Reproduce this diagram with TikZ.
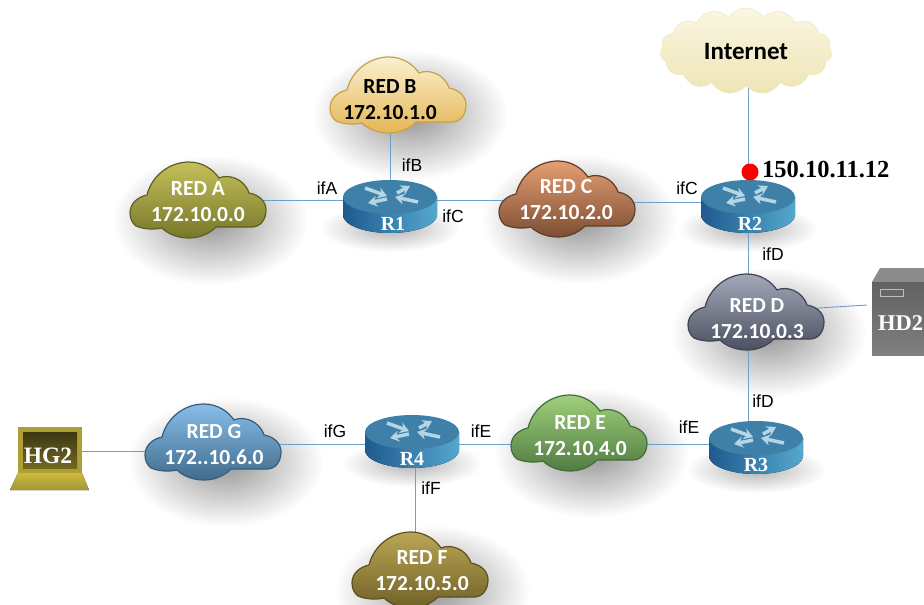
\documentclass[tikz,border=0pt]{standalone}
\usepackage{fontspec}
\usepackage{tikz}
\usepackage{xcolor}
\usetikzlibrary{shapes.symbols}
\usetikzlibrary{arrows.meta}
\usetikzlibrary{fadings}
\usetikzlibrary{backgrounds}
\setmainfont{Liberation Sans}
\newfontfamily\cloudfont{Carlito}[Scale=1]
\newfontfamily\serifbold{Liberation Serif}
\tikzfading[name=softglow, inner color=transparent!0, outer color=transparent!100]

\definecolor{redATop}{HTML}{C4C05A}
\definecolor{redAMid}{HTML}{A3A23A}
\definecolor{redABot}{HTML}{77772A}
\definecolor{redAEdge}{HTML}{5E5E24}
\definecolor{redBTop}{HTML}{FBF0D0}
\definecolor{redBMid}{HTML}{F4D78C}
\definecolor{redBBot}{HTML}{E4B655}
\definecolor{redBEdge}{HTML}{C9A048}
\definecolor{redCTop}{HTML}{E59E72}
\definecolor{redCMid}{HTML}{B2704A}
\definecolor{redCBot}{HTML}{7C4E34}
\definecolor{redCEdge}{HTML}{5F3E2B}
\definecolor{redDTop}{HTML}{A3A8B8}
\definecolor{redDMid}{HTML}{6F7485}
\definecolor{redDBot}{HTML}{4C5161}
\definecolor{redDEdge}{HTML}{3F4352}
\definecolor{redETop}{HTML}{9FCF7C}
\definecolor{redEMid}{HTML}{72A058}
\definecolor{redEBot}{HTML}{517C42}
\definecolor{redEEdge}{HTML}{426C38}
\definecolor{redFTop}{HTML}{BBA655}
\definecolor{redFMid}{HTML}{927F35}
\definecolor{redFBot}{HTML}{706127}
\definecolor{redFEdge}{HTML}{5C5022}
\definecolor{redGTop}{HTML}{88BEEA}
\definecolor{redGMid}{HTML}{5282A9}
\definecolor{redGBot}{HTML}{416C8C}
\definecolor{redGEdge}{HTML}{365C7A}
\definecolor{inetTop}{HTML}{FAF6E2}
\definecolor{inetBot}{HTML}{EEE5B6}
\definecolor{linkBlue}{HTML}{6C9FCB}
\definecolor{routerLeft}{HTML}{1E5A8E}
\definecolor{routerRight}{HTML}{55A8CE}
\definecolor{routerTop}{HTML}{3E80A8}
\definecolor{routerArrow}{HTML}{B4D6E4}
\definecolor{padGold}{HTML}{CDBB3E}

\begin{document}
\begin{tikzpicture}[x=1pt,y=-1pt,
  link/.style={linkBlue, line width=0.9pt},
  cloudbox/.style={minimum width=136pt, minimum height=75pt, inner sep=0pt, align=center,
    font=\cloudfont\bfseries\fontsize{21.5}{26}\selectfont},
  routerbox/.style={minimum width=94pt, minimum height=40pt, inner sep=0pt},
  routertext/.style={text=white, inner sep=0pt, font=\serifbold\bfseries\fontsize{20}{22}\selectfont},
  iflabel/.style={inner sep=0pt, font=\fontsize{17.5}{20}\selectfont},
  softshadow/.style={black, opacity=0.42, path fading=softglow}
]
\useasboundingbox (0,0) rectangle (924,605);
\clip (0,0) rectangle (924,605);
\begin{scope}[on background layer]
\fill[white] (0,0) rectangle (924,605);
\end{scope}

%%%%%%%%%%%%  Clouds %%%%%%%%%%%%%
\foreach \cname/\x/\y/\tx/\ty/\tcol/\lineA/\lineB in {
  redA/198/200/198/202/white/{RED A}/{172.10.0.0},
  redB/398/95/390/100/black/{RED B}/{172.10.1.0},
  redC/567/199/566/200/white/{RED C}/{172.10.2.0},
  redD/756/312/757/319/white/{RED D}/{172.10.0.3},
  redE/579/433/580/436/white/{RED E}/{172.10.4.0},
  redF/420/570/422/571/white/{RED F}/{172.10.5.0},
  redG/213/442/214/445/white/{RED  G}/{172..10.6.0}}
{
\begin{scope}[on background layer]
\fill[softshadow] (\x-85,\y-45) rectangle (\x+110,\y+85);
\end{scope}
\begin{scope}[shift={(\x,\y)}]
\draw[\cname Edge, line width=1.2pt, top color=\cname Top, middle color=\cname Mid, bottom color=\cname Bot]
  (-68,13) .. controls (-68,3) and (-60,-3) .. (-51,-5)
  .. controls (-46,-25) and (-28,-38) .. (-9,-38)
  .. controls (4,-38) and (15,-31) .. (21,-22)
  .. controls (30,-26) and (46,-22) .. (51,-7)
  .. controls (62,-5) and (68,2) .. (68,10)
  .. controls (68,20) and (62,27) .. (54,27)
  .. controls (42,27) and (30,27) .. (18,27)
  .. controls (10,35) and (0,38) .. (-9,38)
  .. controls (-20,38) and (-30,34) .. (-36,28)
  .. controls (-45,30) and (-55,29) .. (-62,26)
  .. controls (-66,23) and (-68,18) .. (-68,13) -- cycle;
\end{scope}
\coordinate (\cname) at (\x,\y);
\node[cloudbox, text=\tcol] (\cname text) at (\tx,\ty) {\lineA\\\lineB};
}

% internet
\node[cloud, cloud puffs=15, cloud puff arc=110, aspect=2.1, inner sep=0pt,
  minimum width=172pt, minimum height=86pt, draw=inetBot,
  top color=inetTop, bottom color=inetBot,
  font=\cloudfont\bfseries\fontsize{25}{28}\selectfont] (inet) at (746,51) {Internet};

%%%%%%%%%%%%  Routers %%%%%%%%%%%%%
\foreach \rname/\x/\y/\ly/\tx/\rtext in {r1/390/197/200/393/R1, r2/748/197/202/750/R2, r3/756/438/444/756/R3, r4/412/432/444/412/R4}
{
\begin{scope}[on background layer]
\fill[softshadow, opacity=0.3] (\x-70,\y+8) rectangle (\x+70,\y+55);
\end{scope}
\begin{scope}[shift={(\x,\y)}]
\fill[left color=routerLeft, right color=routerRight]
  (-47,0) -- (-47,18) arc[start angle=180, end angle=360, x radius=47, y radius=-18] -- (47,0) -- cycle;
\fill[routerTop] (0,0) ellipse[x radius=47, y radius=17];
\foreach \ax/\ay/\bx/\by in {-25/-9/-3/-1, 7/-4/20/-11, -3/2/-22/6, 28/5/5/0}
\draw[routerArrow, line width=3.5pt, -{Stealth[length=9pt,width=11pt]}] (\ax,\ay) -- (\bx,\by);
\end{scope}
\node[routerbox] (\rname) at (\x,\ly) {};
\node[routertext] (\rname text) at (\tx,\y+27) {\rtext};
}

%%%%%%%%%%%%  Hosts %%%%%%%%%%%%%
% server
\fill[black!45] (872,282) -- (880,268) -- (930,268) -- (930,282) -- cycle;
\fill[top color=black!62, bottom color=black!50] (872,282) rectangle (930,355);
\draw[black!25, line width=1pt] (880,289) rectangle (903,296);
\node[inner sep=0pt, text=white, font=\serifbold\bfseries\fontsize{22.5}{24}\selectfont, anchor=west] (hdTwo) at (878,323) {HD2};

% laptop
\fill[padGold!85!black] (18,427) rectangle (82,473);
\fill[top color=black!70!padGold, bottom color=black!45!padGold] (23,432) rectangle (77,468);
\fill[top color=padGold, bottom color=padGold!80!black] (18,473) -- (82,473) -- (89,490) -- (10,490) -- cycle;
\node[inner sep=0pt, text=white, font=\serifbold\bfseries\fontsize{23.5}{24}\selectfont] (hgTwo) at (48,456) {HG2};
\node[minimum width=64pt, minimum height=46pt, inner sep=0pt] (laptop) at (50,451) {};

% red dot
\node[circle, fill=red, minimum size=17pt, inner sep=0pt] (portDot) at (750,172) {};
\node[anchor=west, inner sep=0pt, font=\serifbold\bfseries\fontsize{24.5}{26}\selectfont] (portIp) at (762,170) {150.10.11.12};

%%%%%%%%%%%%  Links %%%%%%%%%%%%%
\coordinate (hdPort) at (867,305);
\coordinate (riserF) at (415,444);
\begin{scope}[on background layer]
\draw[link] (redA) -- (redA -| r1.center);
\draw[link] (r1.center) -- (r1.center |- redB);
\draw[link] (r1.center) -- (r1.center -| redC);
\draw[link] (r2.center) -- (r2.center -| redC);
\draw[link] (r2.center) -- (r2.center |- inet.center);
\draw[link] (r2.center) -- (r2.center |- redD);
\draw[link] (redD) -- (hdPort);
\draw[link] (r2.center |- redD) -- (r2.center |- r3.center);
\draw[link] (r3.center) -- (r3.center -| redE);
\draw[link] (r4.center) -- (r4.center -| redE);
\draw[link] (r4.center) -- (r4.center -| redG);
\draw[link] (laptop.center) -- (laptop.center -| redG);
\draw[link] (riserF) -- (riserF |- redF);
\end{scope}

% labellings
\foreach \lname/\x/\y/\ltext in {ifAa/327/188/ifA, ifBa/412/165/ifB, ifCa/453/216/ifC, ifCb/687/188/ifC,
  ifDa/773/254/ifD, ifDb/763/401/ifD, ifEa/689/427/ifE, ifEb/481/431/ifE, ifGa/335/431/ifG, ifFa/431/488/ifF}
\node[iflabel] (\lname) at (\x,\y) {\ltext};

\end{tikzpicture}
\end{document}
